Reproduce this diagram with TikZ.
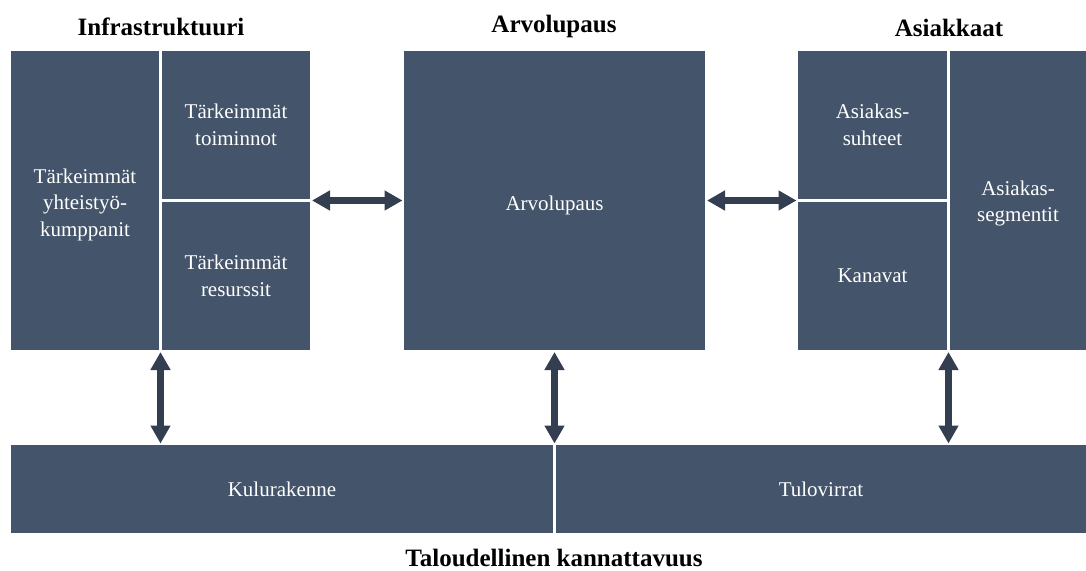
\documentclass[tikz,border=0pt]{standalone}
\usepackage{fontspec}
\setmainfont{Liberation Serif}
\usetikzlibrary{arrows.meta,calc}
\definecolor{boxfill}{HTML}{44546A}
\definecolor{arrowcol}{HTML}{333F50}
\begin{document}
\begin{tikzpicture}[x=1pt,y=-1pt,
  blk/.style={fill=boxfill, draw=none, text=white, inner sep=0pt, outer sep=0pt,
    align=center, font=\fontsize{21}{26.5}\selectfont},
  ttl/.style={anchor=base, font=\fontsize{25}{30}\selectfont\bfseries, text=black},
  dblarrow/.style={draw=arrowcol, line width=7pt,
    {Triangle[length=18pt,width=19pt]}-{Triangle[length=18pt,width=19pt]},
    shorten <=2pt, shorten >=1.5pt}]
\useasboundingbox (0,0) rectangle (1086,570);
% boxes
\node[blk, minimum width=148pt, minimum height=299pt] (kump) at (85,200.5) {};
\node[blk, minimum width=148pt, minimum height=148pt] (toim) at (236,125) {Tärkeimmät\\toiminnot};
\node[blk, minimum width=148pt, minimum height=148pt] (res) at (236,276) {Tärkeimmät\\resurssit};
\node[blk, minimum width=301pt, minimum height=299pt] (arvo) at (554.5,200.5) {};
\node[blk, minimum width=149pt, minimum height=148pt] (suht) at (872.5,125) {Asiakas-\\suhteet};
\node[blk, minimum width=149pt, minimum height=148pt] (kan) at (872.5,276) {Kanavat};
\node[blk, minimum width=136pt, minimum height=299pt] (seg) at (1018,200.5) {};
\node[blk, minimum width=542pt, minimum height=88pt] (kulu) at (282,489) {Kulurakenne};
\node[blk, minimum width=530pt, minimum height=88pt] (tulo) at (821,489) {Tulovirrat};
% box texts placed slightly lower, as in the reference
\node[blk, fill=none] (kumpt) at ($(kump.center)+(0,4)$) {Tärkeimmät\\yhteistyö-\\kumppanit};
\node[blk, fill=none] (arvot) at ($(arvo.center)+(0,5)$) {Arvolupaus};
\node[blk, fill=none] (segt) at ($(seg.center)+(0,3)$) {Asiakas-\\segmentit};
% titles
\node[ttl] (t1) at (161,35) {Infrastruktuuri};
\node[ttl] (t2) at (554,32) {Arvolupaus};
\node[ttl] (t3) at (949,36) {Asiakkaat};
\node[ttl] (t4) at (554,566) {Taloudellinen kannattavuus};
% helper coordinates
\coordinate (lgap) at ($(toim.south east)!0.5!(res.north east)$);
\coordinate (rgap) at ($(suht.south west)!0.5!(kan.north west)$);
\coordinate (lbot) at ($(kump.south east)!0.5!(res.south west)$);
\coordinate (rbot) at ($(kan.south east)!0.5!(seg.south west)$);
% arrows
\draw[dblarrow] (lgap) -- (arvo.west |- lgap);
\draw[dblarrow] (arvo.east |- rgap) -- (rgap);
\draw[dblarrow] (lbot) -- (lbot |- kulu.north);
\draw[dblarrow] (arvo.south) -- (arvo.south |- kulu.north);
\draw[dblarrow] (rbot) -- (rbot |- tulo.north);
\end{tikzpicture}
\end{document}
